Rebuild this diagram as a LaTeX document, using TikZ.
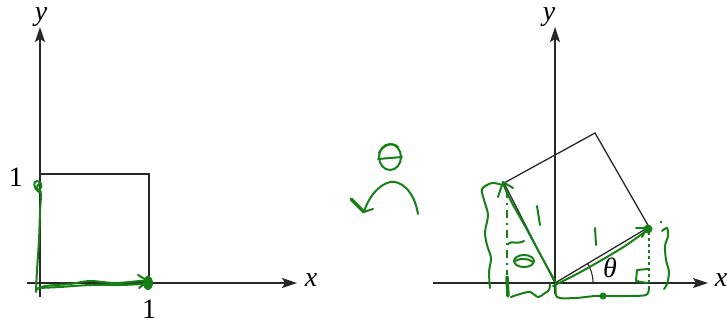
\documentclass[tikz,border=0pt]{standalone}
\usepackage{fontspec}
\setmainfont{Liberation Serif}
\usetikzlibrary{arrows.meta}
\definecolor{hand}{RGB}{22,128,22}
\definecolor{axiscol}{RGB}{40,40,40}
\begin{document}
\begin{tikzpicture}[x=1pt,y=-1pt,
  axisline/.style={draw=axiscol, line width=1.5pt, -{Stealth[length=15pt,width=10pt,inset=3pt]}},
  boxline/.style={draw=axiscol, line width=1.3pt, line join=miter},
  handline/.style={draw=hand, line width=2pt, line cap=round, line join=round},
  lbl/.style={inner sep=0pt, font=\fontsize{28}{32}\selectfont}]
\useasboundingbox (0,0) rectangle (727,325);
% ---------------- left panel ----------------
\coordinate (LO) at (40,283);
\coordinate (LXs) at (27,283);
\coordinate (LXe) at (297,283);
\coordinate (LYs) at (40,297);
\coordinate (LYe) at (40,27);
\coordinate (LA) at (149,283);
\coordinate (LB) at (149,174);
\coordinate (LC) at (40,174);
\draw[axisline] (LXs) -- (LXe);
\draw[axisline] (LYs) -- (LYe);
\draw[boxline] (LC) -- (LB) -- (LA);
\node[lbl] (lx) at (311,280) {\textit{x}};
\node[lbl] (ly) at (41,17) {\textit{y}};
\node[lbl] (l1y) at (16,177) {1};
\node[lbl] (l1x) at (149,309) {1};
% green on left
\draw[handline] plot[smooth] coordinates {(36,292) (37,270) (39,240) (40,212) (41,195) (40,190)};
\draw[handline] (39,192) .. controls (33,188) and (33,181) .. (37,181) .. controls (41,181) and (43,186) .. (40,189) .. controls (37,192) and (35,186) .. (40,183);
\draw[handline] plot[smooth] coordinates {(36,290) (45,286) (70,284) (90,281) (115,283) (140,281) (147,281)};
\draw[handline] plot[smooth] coordinates {(38,288) (60,287) (90,285) (120,285) (143,284)};
\draw[handline] (138,275) -- (148,281) -- (139,288);
\fill[hand] (148,283) ellipse (5 and 7);
% ---------------- rotation symbol ----------------
\draw[handline] (390,157) ellipse (11 and 13);
\draw[handline] (378,159) -- (402,157);
\draw[handline] (398,147) .. controls (392,141) and (382,146) .. (379,153);
\draw[handline] (418,214) .. controls (414,190) and (400,180) .. (390,182) .. controls (378,185) and (368,198) .. (364,212);
\draw[hand, line width=3.5pt, line cap=round] (351,199) -- (364,212);
\draw[handline] (364,212) -- (373,209);
% ---------------- right panel ----------------
\coordinate (RO) at (555,283);
\coordinate (RXs) at (433,283);
\coordinate (RXe) at (708,283);
\coordinate (RYs) at (555,294);
\coordinate (RYe) at (555,27);
\coordinate (RA) at (649,227);
\coordinate (RB) at (595,133);
\coordinate (RC) at (504,183);
\draw[axisline] (RXs) -- (RXe);
\draw[axisline] (RYs) -- (RYe);
\draw[boxline] (RO) -- (RA) -- (RB) -- (RC) -- cycle;
\node[lbl] (rx) at (721,280) {\textit{x}};
\node[lbl] (ry) at (549,17) {\textit{y}};
\draw[draw=axiscol, line width=1.1pt] plot[domain=0:30, samples=20] ({555+38*cos(\x)},{283-38*sin(\x)});
\node[lbl] (th) at (610,268) {\textit{θ}};
% green: vectors
\draw[handline] plot[smooth] coordinates {(553,286) (575,275) (600,261) (625,246) (646,231)};
\draw[handline] (636,228) -- (647,228) -- (642,237);
\fill[hand] (648,229) ellipse (4.5 and 4.5);
\fill[hand] (661,222) circle (1.4);
\draw[handline] plot[smooth] coordinates {(555,281) (540,254) (525,226) (512,203) (503,184)};
\draw[handline] (498,197) -- (503,182) -- (513,188);
% green: ones
\draw[handline] (537,206) -- (540,225);
\draw[handline] (595,228) -- (596,245);
% green: small theta
\draw[handline] (524,261) ellipse (10 and 6);
\draw[handline] (515,261) .. controls (520,258) and (528,258) .. (533,262);
\draw[handline] (508,244) .. controls (512,240) and (516,245) .. (524,241);
% green: dash-dot vertical
\draw[hand, line width=1.5pt, dash pattern=on 8pt off 5pt on 2pt off 5pt] (507,190) -- (507,275);
\draw[hand, line width=3.5pt, line cap=round] (507,277) -- (508,296);
% green: dashed vertical
\draw[hand, line width=1.5pt, dashed] (649,232) -- (649,292);
% green: right-angle mark
\draw[handline] (648,269) -- (637,270) -- (636,281) -- (647,283);
% green: left brace
\draw[handline] plot[smooth] coordinates {(502,185) (492,183) (482,189) (484,200) (488,215) (485,232) (487,245) (491,258) (489,272) (490,288)};
% green: bottom braces
\draw[handline] plot[smooth] coordinates {(511,297) (520,294) (530,292) (538,297) (545,293) (549,290) (550,284)};
\draw[handline] plot[smooth] coordinates {(556,282) (557,297) (575,298) (595,296) (610,296) (630,296) (646,295) (649,289)};
\draw[handline] (603,296) circle (2.5);
% green: right brace
\draw[handline] plot[smooth] coordinates {(662,231) (667,228) (668,236) (665,246) (666,260) (669,272) (667,284) (664,289)};
\end{tikzpicture}
\end{document}
